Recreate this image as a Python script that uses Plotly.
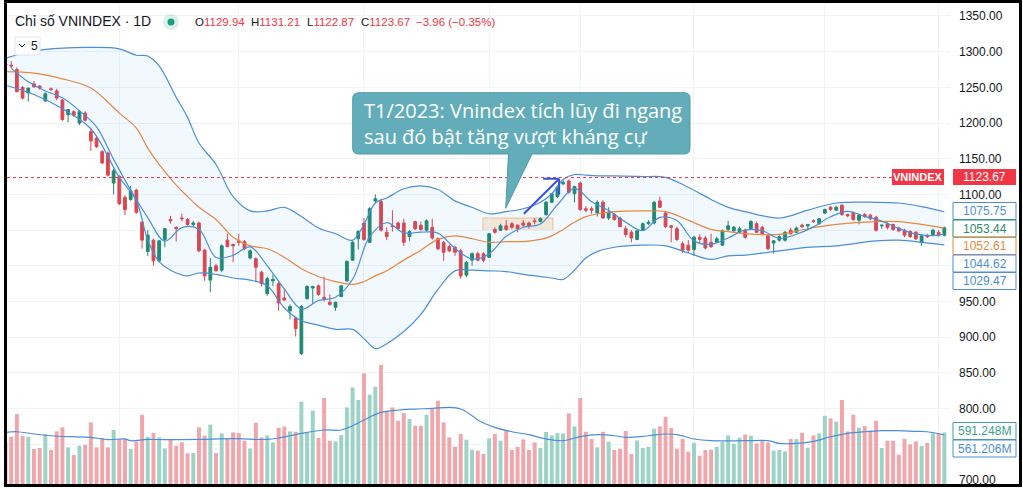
import plotly.graph_objects as go

# ---- data (daily candles, left to right) ----
opens = [1283, 1281, 1275, 1250, 1242, 1255, 1252, 1231, 1248, 1245, 1232, 1212, 1216, 1200, 1214, 1188, 1179, 1160, 1158, 1116,
         1125, 1096, 1093, 1106, 1061, 1020, 1036, 1007, 1037, 1065, 1054, 1067, 1065, 1058, 1060, 1022, 980, 1000, 994, 1036,
         1030, 1035, 1034, 1011, 1010, 991, 961, 979, 975, 955, 937, 927, 877, 954, 969, 972, 956, 949, 942, 957,
         979, 1008, 1038, 1060, 1033, 1091, 1090, 1047, 1056, 1060, 1060, 1041, 1062, 1057, 1050, 1054, 1038, 1033, 1027, 1026,
         1021, 987, 1008, 1017, 1017, 1012, 1051, 1050, 1056, 1059, 1057, 1060, 1060, 1063, 1062, 1072, 1089, 1097, 1115, 1119,
         1101, 1116, 1080, 1080, 1074, 1089, 1067, 1072, 1067, 1052, 1047, 1037, 1050, 1059, 1060, 1091, 1074, 1056, 1052, 1031,
         1029, 1023, 1040, 1039, 1033, 1033, 1029, 1051, 1049, 1047, 1050, 1052, 1059, 1054, 1042, 1032, 1036, 1036, 1050, 1047,
         1057, 1056, 1063, 1059, 1074, 1082, 1078, 1085, 1072, 1074, 1064, 1072, 1071, 1068, 1056, 1059, 1058, 1053, 1050, 1048,
         1047, 1033, 1042, 1044, 1047, 1043]
highs = [1287, 1287, 1278, 1252, 1249, 1259, 1253, 1243, 1250, 1248, 1234, 1219, 1218, 1218, 1217, 1192, 1182, 1162, 1160, 1136,
         1127, 1099, 1112, 1108, 1063, 1050, 1038, 1036, 1053, 1070, 1055, 1073, 1067, 1063, 1062, 1024, 1011, 1003, 1030, 1045,
         1031, 1045, 1036, 1023, 1012, 993, 985, 988, 978, 967, 946, 929, 945, 973, 972, 974, 985, 960, 950, 973,
         1008, 1035, 1050, 1067, 1082, 1100, 1094, 1054, 1078, 1062, 1066, 1050, 1063, 1062, 1065, 1066, 1040, 1035, 1030, 1028,
         1024, 1007, 1019, 1020, 1019, 1046, 1054, 1059, 1064, 1061, 1058, 1064, 1062, 1067, 1068, 1091, 1102, 1113, 1120, 1121,
         1112, 1118, 1084, 1083, 1092, 1092, 1082, 1074, 1069, 1056, 1050, 1051, 1061, 1064, 1091, 1097, 1076, 1057, 1055, 1034,
         1036, 1042, 1044, 1042, 1045, 1041, 1051, 1063, 1056, 1055, 1052, 1064, 1062, 1056, 1044, 1036, 1043, 1049, 1053, 1055,
         1059, 1058, 1065, 1067, 1080, 1084, 1084, 1086, 1073, 1076, 1073, 1074, 1073, 1070, 1057, 1061, 1059, 1055, 1052, 1050,
         1049, 1044, 1045, 1052, 1050, 1055]
lows = [1279, 1277, 1243, 1233, 1230, 1249, 1247, 1230, 1245, 1232, 1203, 1201, 1209, 1197, 1202, 1161, 1165, 1143, 1125, 1100,
        1085, 1071, 1091, 1073, 1024, 1014, 1000, 1005, 1026, 1059, 1034, 1062, 1056, 1055, 1019, 979, 963, 992, 991, 1026,
        1005, 1028, 1022, 1009, 977, 971, 958, 972, 937, 951, 925, 901, 875, 953, 947, 958, 950, 944, 937, 956,
        977, 1007, 1023, 1035, 1032, 1088, 1048, 1036, 1048, 1050, 1028, 1035, 1050, 1049, 1048, 1037, 1022, 1007, 1019, 1014,
        982, 984, 1000, 1006, 1005, 1011, 1045, 1049, 1049, 1052, 1047, 1054, 1052, 1058, 1061, 1070, 1088, 1095, 1113, 1101,
        1089, 1077, 1075, 1073, 1069, 1066, 1064, 1063, 1054, 1040, 1033, 1036, 1049, 1057, 1058, 1081, 1053, 1033, 1035, 1018,
        1018, 1014, 1033, 1023, 1025, 1032, 1028, 1049, 1047, 1045, 1038, 1050, 1046, 1043, 1022, 1017, 1034, 1034, 1044, 1046,
        1053, 1052, 1060, 1058, 1073, 1077, 1077, 1070, 1068, 1063, 1058, 1067, 1064, 1048, 1052, 1051, 1049, 1047, 1040, 1039,
        1036, 1028, 1039, 1042, 1041, 1041]
closes = [1281, 1280, 1244, 1235, 1249, 1251, 1249, 1241, 1247, 1235, 1205, 1219, 1211, 1216, 1204, 1175, 1167, 1144, 1127, 1133,
          1087, 1079, 1105, 1075, 1036, 1043, 1007, 1035, 1052, 1063, 1052, 1066, 1058, 1060, 1021, 986, 998, 993, 1028, 1027,
          1028, 1033, 1024, 1021, 998, 975, 982, 981, 948, 952, 943, 912, 943, 971, 971, 960, 954, 946, 949, 972,
          1006, 1033, 1048, 1037, 1080, 1094, 1050, 1041, 1055, 1052, 1033, 1048, 1052, 1051, 1063, 1039, 1024, 1019, 1021, 1019,
          986, 1005, 1017, 1008, 1008, 1045, 1047, 1056, 1051, 1054, 1052, 1057, 1056, 1062, 1066, 1089, 1101, 1110, 1117, 1103,
          1111, 1079, 1078, 1078, 1089, 1067, 1075, 1065, 1055, 1044, 1039, 1049, 1059, 1061, 1089, 1082, 1055, 1054, 1037, 1022,
          1022, 1040, 1037, 1025, 1027, 1038, 1049, 1056, 1054, 1052, 1040, 1062, 1047, 1045, 1024, 1035, 1041, 1047, 1045, 1053,
          1055, 1058, 1062, 1066, 1079, 1079, 1082, 1072, 1070, 1065, 1071, 1069, 1066, 1050, 1057, 1054, 1051, 1049, 1043, 1041,
          1038, 1042, 1041, 1050, 1043, 1053.44]
volume_m = [477, 542, 802, 553, 542, 401, 413, 573, 390, 603, 649, 420, 332, 439, 450, 706, 420, 527, 420, 619,
            516, 516, 401, 488, 794, 542, 584, 534, 408, 516, 439, 477, 351, 355, 649, 553, 680, 355, 580, 516,
            592, 584, 496, 408, 702, 534, 557, 477, 642, 657, 603, 599, 943, 592, 840, 527, 986, 496, 488, 561,
            878, 1107, 963, 1268, 1023, 1115, 1364, 840, 878, 725, 814, 745, 668, 668, 794, 860, 955, 706, 534, 427,
            573, 508, 393, 382, 344, 523, 573, 496, 611, 390, 427, 511, 390, 477, 413, 596, 557, 584, 580, 809,
            660, 986, 599, 516, 420, 599, 485, 390, 405, 607, 344, 500, 413, 427, 634, 660, 771, 642, 405, 519,
            370, 473, 324, 390, 393, 427, 481, 557, 462, 531, 565, 553, 466, 496, 477, 382, 390, 374, 516, 515,
            588, 416, 557, 580, 783, 752, 714, 963, 603, 794, 645, 665, 611, 725, 413, 496, 496, 336, 516, 454,
            488, 435, 470, 580, 580, 591.248]

# Bollinger band (20, 2) read at a subset of candles
bb_idx = [0, 5, 10, 15, 20, 23, 25, 27, 30, 32, 34, 37, 40, 43, 46, 49, 52, 55, 58, 61, 63, 65, 67, 70, 73, 76, 79, 82,
          85, 88, 91, 94, 96, 98, 100, 102, 104, 107, 112, 116, 120, 124, 127, 130, 136, 141, 146, 153, 157, 161, 165]
bb_upper = [1291, 1301, 1305, 1306, 1304, 1295, 1294, 1280, 1236, 1208, 1172, 1142, 1097, 1077, 1077, 1082, 1069, 1053,
            1045, 1036, 1058, 1088, 1095, 1108, 1112, 1107, 1091, 1082, 1073, 1076, 1080, 1089, 1101, 1121, 1128, 1127,
            1126, 1126, 1125, 1124, 1110, 1093, 1082, 1076, 1067, 1078, 1088, 1089, 1088, 1083, 1075.75]
bb_basis = [1272, 1270, 1262, 1249, 1214, 1193, 1165, 1142, 1113, 1097, 1082, 1065, 1040, 1028, 1024, 1012, 996, 985,
            978, 974, 978, 986, 993, 1008, 1022, 1037, 1042, 1038, 1033, 1034, 1034, 1037, 1042, 1051, 1061, 1069,
            1073, 1076, 1077, 1076, 1064, 1051, 1048, 1045, 1044, 1052, 1058, 1062, 1062, 1058, 1052.61]
bb_lower = [1253, 1240, 1220, 1192, 1124, 1091, 1036, 1006, 990, 986, 990, 988, 983, 980, 972, 941, 923, 917,
            911, 911, 898, 884, 891, 908, 932, 967, 993, 994, 993, 992, 988, 985, 983, 981, 994, 1011,
            1020, 1026, 1029, 1028, 1018, 1009, 1014, 1015, 1021, 1026, 1028, 1035, 1036, 1033, 1029.47]

# short moving average (5)
ma_idx = [1, 4, 7, 10, 13, 16, 19, 22, 25, 28, 31, 34, 37, 40, 43, 46, 49, 52, 55, 58, 61, 64, 67, 70, 73, 76, 79, 82,
          85, 88, 91, 94, 97, 100, 103, 106, 109, 112, 115, 118, 121, 124, 127, 130, 133, 136, 139, 142, 145, 148, 151,
          154, 157, 160, 163, 165]
ma5 = [1277, 1257.8, 1245, 1235.4, 1217.2, 1194.6, 1149.2, 1106.2, 1067.6, 1034.6, 1053.6, 1051.4, 1011.6, 1014.8,
       1026.6, 1000, 967.6, 939.6, 951.4, 956, 981.2, 1040.8, 1060.4, 1046.2, 1047.2, 1045.8, 1024.4, 1009.6, 1016.6,
       1041.4, 1054, 1058.6, 1085.6, 1108.4, 1089.8, 1077.4, 1061.2, 1049.2, 1068, 1063.4, 1035, 1030.2, 1039, 1050.2,
       1049.2, 1038.4, 1044.2, 1054.6, 1068.8, 1076.4, 1069.4, 1062.6, 1052.2, 1044.4, 1042.4, 1044.62]

# volume moving average
vma_idx = [0, 2, 5, 8, 11, 15, 18, 21, 22, 25, 28, 34, 40, 46, 48, 50, 53, 56, 59, 61, 63, 66, 69, 72, 75, 78, 80, 82,
           83, 86, 89, 92, 95, 98, 101, 104, 107, 109, 113, 116, 118, 121, 124, 130, 134, 136, 139, 142, 145, 148, 151,
           154, 157, 160, 162, 165]
vma = [591, 599, 573, 553, 542, 534, 508, 516, 496, 511, 508, 511, 519, 511, 527, 553, 591, 619, 619, 668, 733, 820,
       848, 859, 866, 878, 859, 783, 733, 649, 599, 565, 516, 496, 542, 565, 553, 534, 553, 573, 565, 516, 496, 496,
       496, 465, 465, 488, 542, 580, 599, 611, 611, 603, 599, 561.206]

price_ticks = [700, 750, 800, 850, 900, 950, 1000, 1050, 1100, 1150, 1200, 1250, 1300, 1350]
hidden_ticks = [750, 1000, 1050]
month_lines = [20, 41, 63, 85, 101, 121, 144, 164]
last_price = 1123.67
header_ohlc = [("O", "1129.94"), ("H", "1131.21"), ("L", "1122.87"), ("C", "1123.67")]
header_change = "−3.96 (−0.35%)"
callout_text = "T1/2023: Vnindex tích lũy đi ngang<br>sau đó bật tăng vượt kháng cự"

UP, DOWN = "#22886d", "#e0454c"
UP_VOL, DOWN_VOL = "#9dd3c7", "#f0a7ab"
BLUE, ORANGE, RED = "#4a8fd8", "#e8873f", "#f23645"
TXT = "#131722"
FONT = "Liberation Sans"

# plot area in pixels
PL, PR, PT, PB = 4, 950, 3, 484


def fx(px):
    return (px - PL) / (PR - PL)


def fy(py):
    return (PB - py) / (PB - PT)


def label(px, py, text, size, color, family=FONT, anchor="center"):
    return dict(x=fx(px), y=fy(py), xref="paper", yref="paper", xanchor=anchor, yanchor="middle",
                text=text, showarrow=False, font=dict(family=family, size=size, color=color))


xs = list(range(len(closes)))
vol_colors = [UP_VOL if c >= o else DOWN_VOL for o, c in zip(opens, closes)]

fig = go.Figure()

fig.add_trace(go.Bar(x=xs, y=volume_m, marker=dict(color=vol_colors, line=dict(width=0)),
                     yaxis="y2", hoverinfo="skip"))
fig.add_trace(go.Scatter(x=vma_idx, y=vma, mode="lines", line=dict(color=BLUE, width=1.2, shape="spline"),
                         yaxis="y2", hoverinfo="skip"))

fig.add_trace(go.Scatter(x=bb_idx, y=bb_upper, mode="lines", line=dict(color=BLUE, width=1.2, shape="spline")))
fig.add_trace(go.Scatter(x=bb_idx, y=bb_lower, mode="lines", line=dict(color=BLUE, width=1.2, shape="spline"),
                         fill="tonexty", fillcolor="rgba(33,150,243,0.06)"))
fig.add_trace(go.Scatter(x=bb_idx, y=bb_basis, mode="lines", line=dict(color=ORANGE, width=1.2, shape="spline")))
fig.add_trace(go.Scatter(x=ma_idx, y=ma5, mode="lines", line=dict(color=BLUE, width=1.2, shape="spline")))

fig.add_trace(go.Candlestick(
    x=xs, open=opens, high=highs, low=lows, close=closes, whiskerwidth=0,
    increasing=dict(line=dict(color=UP, width=1), fillcolor=UP),
    decreasing=dict(line=dict(color=DOWN, width=1), fillcolor=DOWN),
))

shapes = []
annotations = []

# last price dotted line + tags
shapes.append(dict(type="line", xref="paper", yref="y", x0=fx(7), x1=fx(892), y0=last_price, y1=last_price,
                   line=dict(color=RED, width=1, dash="dot")))
shapes.append(dict(type="rect", xref="paper", yref="paper", x0=fx(892), x1=fx(944), y0=fy(185), y1=fy(169),
                   fillcolor=RED, line=dict(width=0)))
annotations.append(label(918, 177, "<b>VNINDEX</b>", 11, "white"))
shapes.append(dict(type="rect", xref="paper", yref="paper", x0=fx(953), x1=fx(1016), y0=fy(185), y1=fy(169),
                   fillcolor=RED, line=dict(width=0)))
annotations.append(label(984.5, 177, "1123.67", 12, "white"))

# right-axis value labels (stacked)
value_tags = [("1075.75", BLUE, 211), ("1053.44", "#2a8c6c", 228.5), ("1052.61", ORANGE, 246),
              ("1044.62", BLUE, 263.5), ("1029.47", BLUE, 281),
              ("591.248M", "#3aa38d", 431), ("561.206M", BLUE, 448.5)]
for txt, col, cy in value_tags:
    shapes.append(dict(type="rect", xref="paper", yref="paper", x0=fx(953), x1=fx(1016), y0=fy(cy + 8.5),
                       y1=fy(cy - 8.5), fillcolor="white", line=dict(color=col, width=1)))
    annotations.append(label(984.5, cy, txt, 12, col))

# consolidation zone and breakout arrow
shapes.append(dict(type="rect", xref="x", yref="y", x0=83.9, x1=96.2, y0=1049.6, y1=1067, layer="below",
                   fillcolor="rgba(245,170,80,0.22)", line=dict(color="rgba(240,175,100,0.7)", width=1)))
arrow = dict(color="#3a50d9", width=2)
shapes.append(dict(type="line", xref="x", yref="y", x0=91.1, y0=1073, x1=97.3, y1=1122, line=arrow))
shapes.append(dict(type="line", xref="x", yref="y", x0=94.5, y0=1122, x1=97.3, y1=1122, line=arrow))
shapes.append(dict(type="line", xref="x", yref="y", x0=97.3, y0=1100, x1=97.3, y1=1122, line=arrow))

# callout bubble
x0, x1, y0, y1, r = 352.7, 690, 92.7, 154, 6
pts = [("M", x0 + r, y0), ("L", x1 - r, y0), ("Q", x1, y0, x1, y0 + r), ("L", x1, y1 - r), ("Q", x1, y1, x1 - r, y1),
       ("L", 532, y1), ("L", 505.7, 208.3), ("L", 508.5, y1), ("L", x0 + r, y1), ("Q", x0, y1, x0, y1 - r),
       ("L", x0, y0 + r), ("Q", x0, y0, x0 + r, y0)]
path = ""
for p in pts:
    coords = p[1:]
    pairs = ["%.5f,%.5f" % (fx(coords[k]), fy(coords[k + 1])) for k in range(0, len(coords), 2)]
    path += p[0] + " ".join(pairs) + " "
shapes.append(dict(type="path", xref="paper", yref="paper", path=path + "Z",
                   fillcolor="#62adb9", line=dict(color="#4f9ba8", width=1)))
callout = label(362, 123, callout_text, 20, "white", "Open Sans", "left")
callout["align"] = "left"
annotations.append(callout)

# header
annotations.append(label(13, 21, "Chỉ số VNINDEX · 1D", 14, TXT, anchor="left"))
shapes.append(dict(type="circle", xref="paper", yref="paper", x0=fx(163), x1=fx(179), y0=fy(30), y1=fy(14),
                   fillcolor="rgba(8,153,129,0.15)", line=dict(width=0)))
shapes.append(dict(type="circle", xref="paper", yref="paper", x0=fx(167.5), x1=fx(174.5), y0=fy(25.5), y1=fy(18.5),
                   fillcolor="#1f9c7f", line=dict(width=0)))
ohlc_x = [193.3, 249.3, 305, 359]
for (k, v), px in zip(header_ohlc, ohlc_x):
    annotations.append(label(px, 22, k + "<span style='color:%s'>%s</span>" % (RED, v), 11.5, TXT, anchor="left"))
annotations.append(label(414, 22, header_change, 11.5, RED, anchor="left"))

# collapsed indicator list
shapes.append(dict(type="rect", xref="paper", yref="paper", x0=fx(15), x1=fx(40), y0=fy(55), y1=fy(37),
                   fillcolor="white", line=dict(color="#e0e3eb", width=1)))
shapes.append(dict(type="path", xref="paper", yref="paper",
                   path="M%.5f,%.5f L%.5f,%.5f L%.5f,%.5f" % (fx(19), fy(44), fx(22), fy(47), fx(25), fy(44)),
                   line=dict(color=TXT, width=1)))
annotations.append(label(29, 46, "5", 12, TXT, anchor="left"))

# black frame of the screenshot
shapes.append(dict(type="rect", xref="paper", yref="paper", x0=fx(5.5), x1=fx(1020.5), y0=fy(485.5), y1=fy(1.5),
                   line=dict(color="black", width=3)))

fig.update_layout(
    width=1023, height=489, autosize=False,
    margin=dict(l=PL, r=1023 - PR, t=PT, b=489 - PB, pad=0),
    paper_bgcolor="white", plot_bgcolor="white",
    showlegend=False, bargap=0.3,
    xaxis=dict(range=[(PL - 5.5) / 5.69, (PR - 5.5) / 5.69], tickvals=month_lines, showticklabels=False,
               showgrid=True, gridcolor="#f0f3fa", zeroline=False, rangeslider=dict(visible=False), fixedrange=True),
    yaxis=dict(side="right", range=[694.4, 1368.2], tickvals=price_ticks,
               ticktext=["" if t in hidden_ticks else "%.2f" % t for t in price_ticks],
               showgrid=True, gridcolor="#f0f3fa", zeroline=False, ticks="", ticklabelstandoff=8,
               tickfont=dict(family=FONT, size=12, color=TXT), fixedrange=True),
    yaxis2=dict(overlaying="y", range=[0, 481 * 11.46], visible=False, fixedrange=True),
    shapes=shapes, annotations=annotations,
)

fig.write_html("out.html", config={"displayModeBar": False},
               post_script="document.body.style.margin='0';document.body.style.overflow='hidden';")
